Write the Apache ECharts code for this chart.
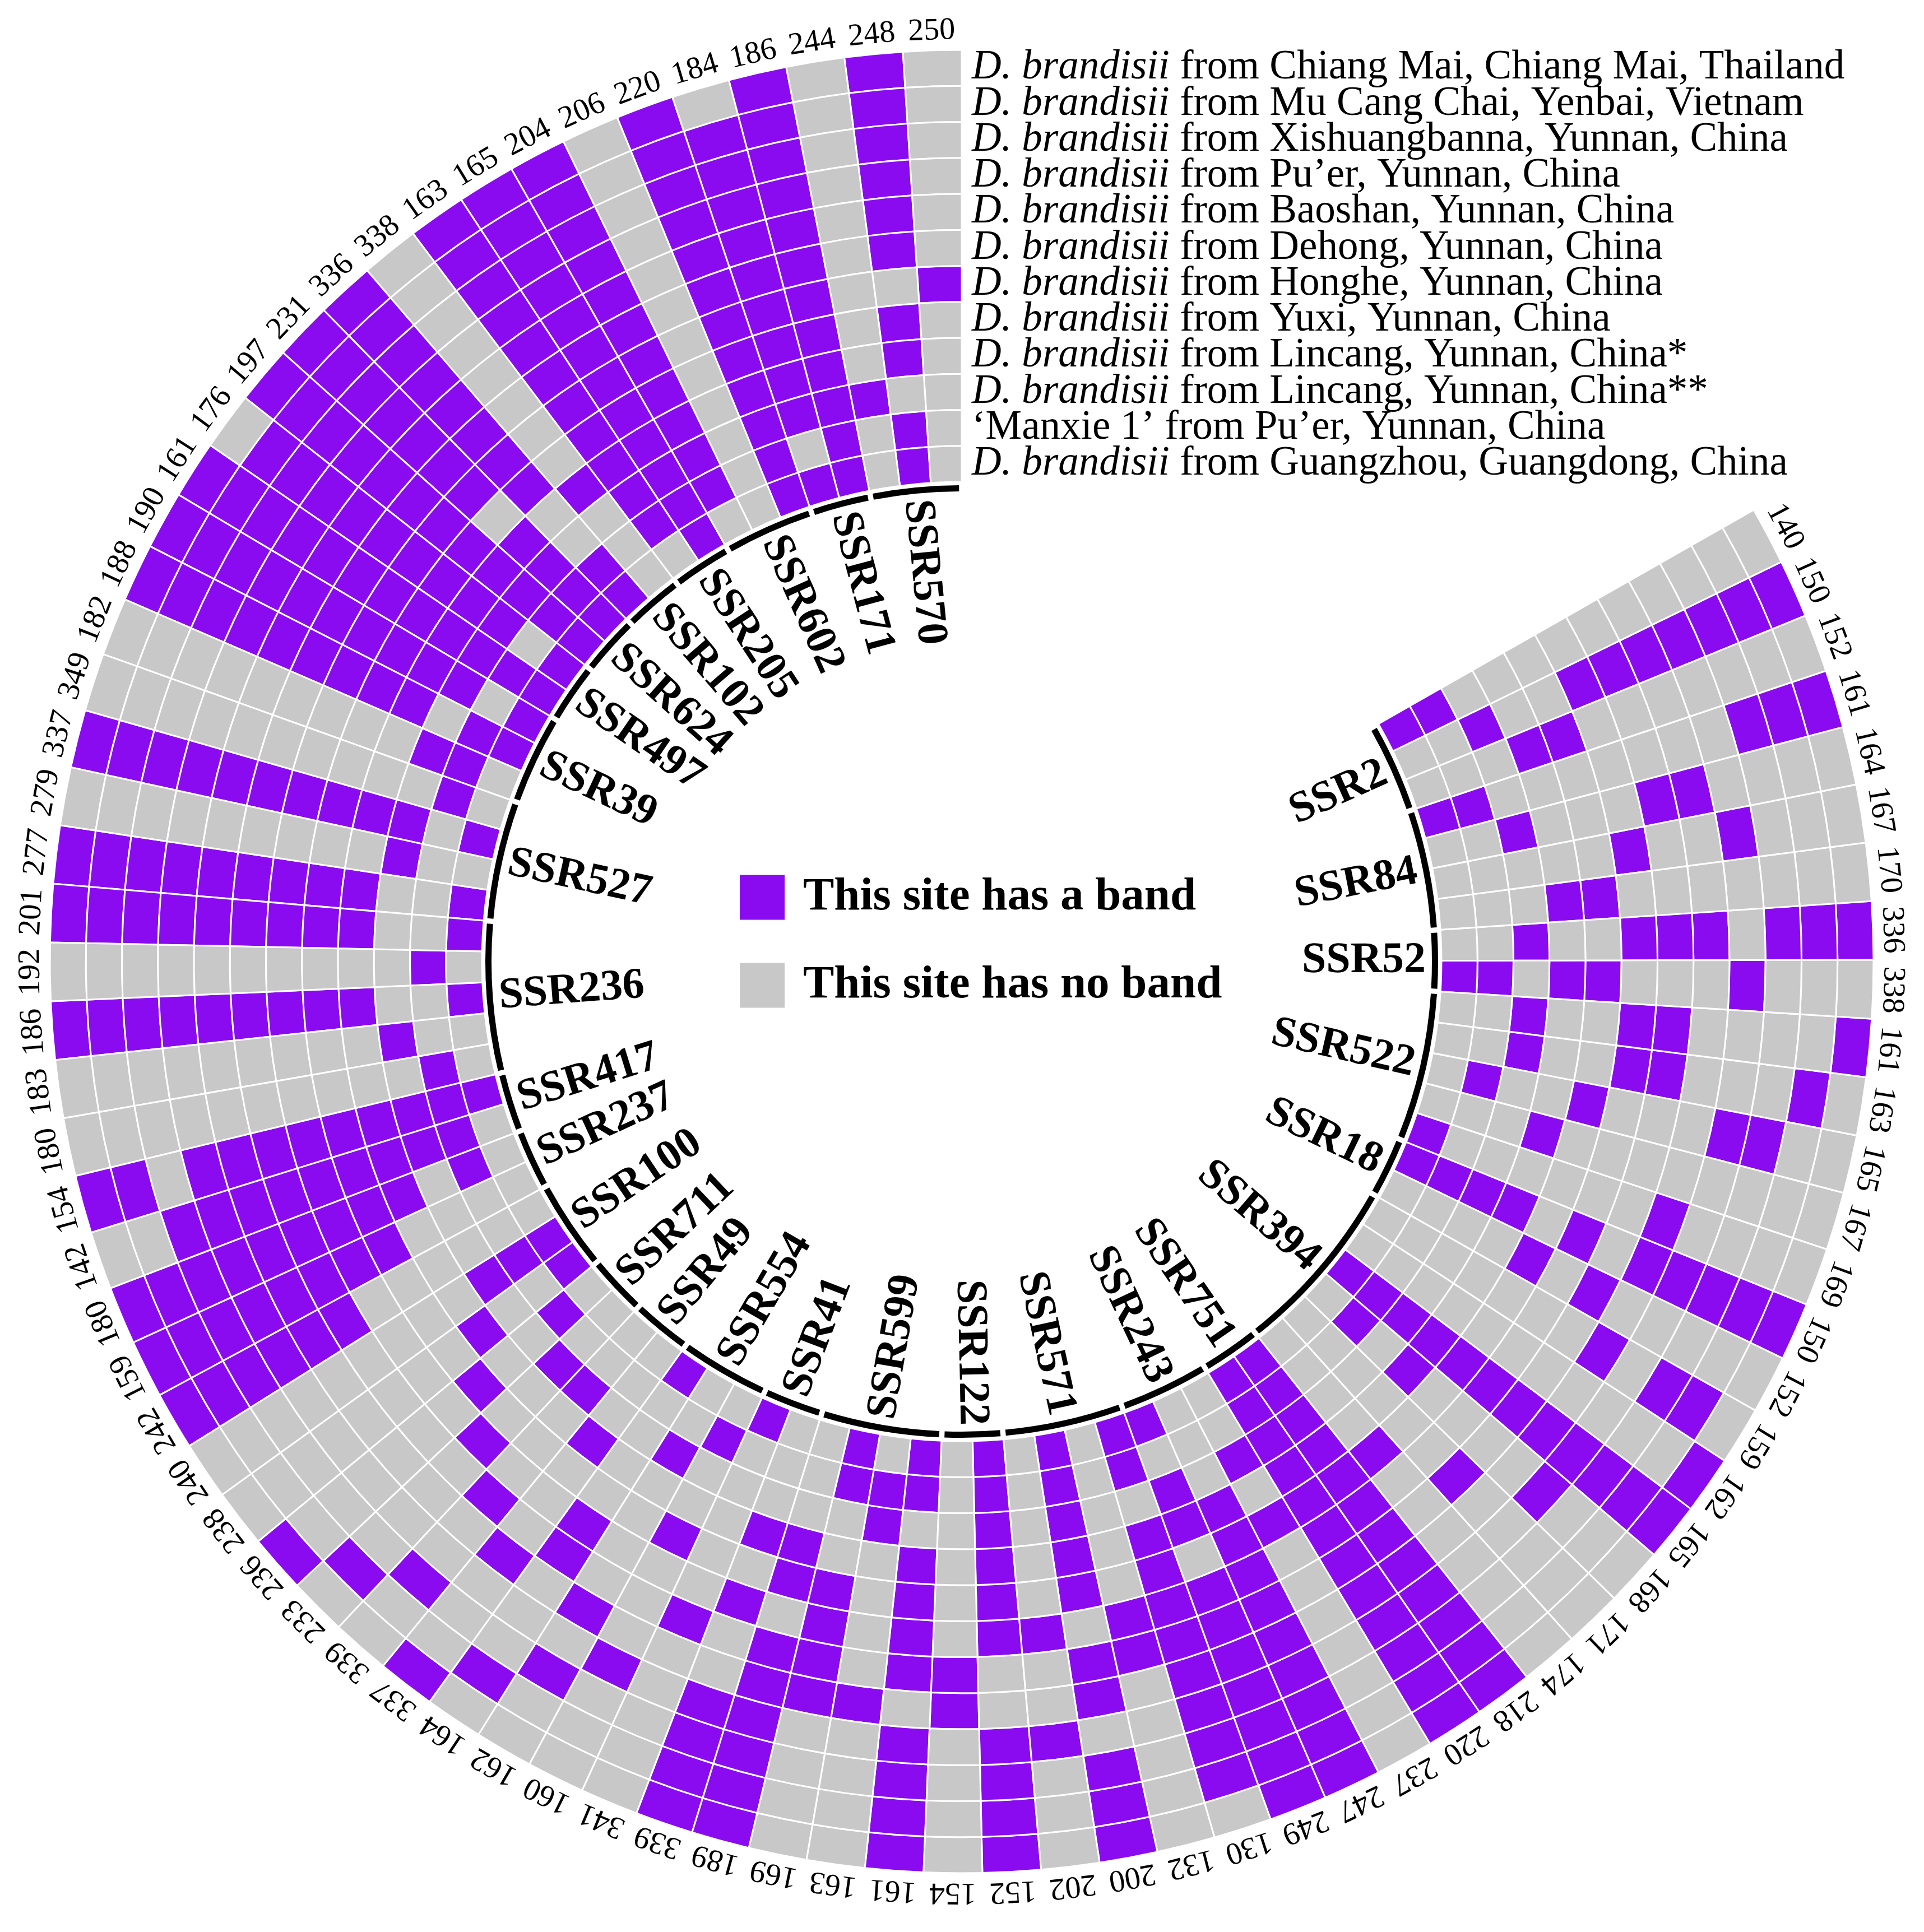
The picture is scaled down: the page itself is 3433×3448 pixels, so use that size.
<!DOCTYPE html>
<html>
<head>
<meta charset="utf-8">
<script src="https://cdn.jsdelivr.net/npm/echarts@6/dist/echarts.min.js"></script>
<style>
html,body{margin:0;padding:0;background:#fff;}
#c{width:3433px;height:3448px;}
</style>
</head>
<body>
<div id="c"></div>
<script>
// ---------- data ----------
const bandSizes = [250,248,244,186,184,220,206,204,165,163,338,336,231,197,176,161,190,188,182,
  349,337,279,277,201,192,186,183,180,154,142,180,159,242,240,238,236,233,339,337,164,162,160,
  341,339,189,169,163,161,154,152,202,200,132,130,249,247,237,220,218,174,171,168,165,162,159,
  152,150,169,167,165,163,161,338,336,170,167,164,161,152,150,140];

const markers = ['SSR570','SSR171','SSR602','SSR205','SSR102','SSR624','SSR497','SSR39','SSR527',
  'SSR236','SSR417','SSR237','SSR100','SSR711','SSR49','SSR554','SSR41','SSR599','SSR122','SSR571',
  'SSR243','SSR751','SSR394','SSR18','SSR522','SSR52','SSR84','SSR2'];
const markerAlleleCounts = [3,2,3,2,2,2,2,3,4,5,2,2,3,2,2,3,2,4,2,4,3,2,6,2,5,2,4,3];

const samplesItalic = ['D. brandisii','D. brandisii','D. brandisii','D. brandisii','D. brandisii',
  'D. brandisii','D. brandisii','D. brandisii','D. brandisii','D. brandisii','','D. brandisii'];
const samplesRest = [' from Chiang Mai, Chiang Mai, Thailand',' from Mu Cang Chai, Yenbai, Vietnam',
  ' from Xishuangbanna, Yunnan, China',' from Pu\u2019er, Yunnan, China',' from Baoshan, Yunnan, China',
  ' from Dehong, Yunnan, China',' from Honghe, Yunnan, China',' from Yuxi, Yunnan, China',
  ' from Lincang, Yunnan, China*',' from Lincang, Yunnan, China**',
  '\u2018Manxie 1\u2019 from Pu\u2019er, Yunnan, China',' from Guangzhou, Guangdong, China'];

// one string per allele column, one character per sample (outer ring first): 1 = band, 0 = no band
const presence = [
  '000000100000','111111011011','000000000100',
  '111111111111','011111111101',
  '111111111111','000000000000','111111111110',
  '111111111111','111111111110',
  '000000001000','111111110011',
  '111111101111','111111111111',
  '011111111101','111111111111',
  '111111111101','111111111011','000000000110',
  '000000000010','111111111101','000000000100','111111111001',
  '111111111001','000000000010','111111111001','000000000100','000000000010',
  '110111111111','001111111110',
  '111111111010','111111110000',
  '111111000000','000000000111','000000001001',
  '100000010010','010000100100',
  '001001000100','100010001000',
  '010001100001','001010000100','000100010010',
  '000001000001','111100101000',
  '111111011000','000011110011','000010000110','111101111011',
  '000011000000','111100111111',
  '000100100000','111011011111','000001100000','011111111011',
  '111111101101','111111111000','000000010100',
  '111111111111','111111111111',
  '000000010000','000001000000','000100001010','111111111111','100000000000','011010000000',
  '000001010000','111110101111',
  '000010000001','000000001000','001100010010','010001100100','100001100100',
  '000100011011','111011100100',
  '000000011000','000100100000','000011000100','111000000011',
  '000000011000','111111100100','000000000011'
];

// ---------- derived ----------
const PURPLE = '#8A0BF0', GRAY = '#C8C8C8';
const NROW = samplesRest.length;
const COL_DEG = 3.7;
const ANGLE_MAX = 360 / COL_DEG;
const FONT = 'Liberation Serif';

const bandData = [], noBandData = [];
presence.forEach(function (col, ci) {
  for (let k = 0; k < NROW; k++) {
    const item = [NROW - k - 0.5, ci + 0.5];
    (col.charAt(k) === '1' ? bandData : noBandData).push(item);
  }
});
const labelData = bandSizes.map(function (b, i) { return [NROW, i + 0.5]; });
const groupData = [];
let start = 0;
markerAlleleCounts.forEach(function (n) {
  groupData.push([0, start + n / 2, n]);
  start += n;
});
const sampleData = samplesRest.map(function (s, k) { return [NROW - k - 0.5, 0]; });

function polarInfo(params, api, r, a) {
  const p = api.coord([r, a]);
  const cx = params.coordSys.cx, cy = params.coordSys.cy;
  return {
    cx: cx, cy: cy,
    ang: Math.atan2(p[1] - cy, p[0] - cx),
    rad: Math.hypot(p[0] - cx, p[1] - cy),
    p: p
  };
}

function renderCell(params, api) {
  const r = api.value(0), a = api.value(1);
  const info = polarInfo(params, api, r, a);
  const s = api.size([1, 1], [r, a]);
  return {
    type: 'sector',
    shape: {
      cx: info.cx, cy: info.cy,
      r0: info.rad - s[0] / 2, r: info.rad + s[0] / 2,
      startAngle: info.ang - s[1] / 2, endAngle: info.ang + s[1] / 2
    },
    style: { fill: api.visual('color'), stroke: '#ffffff', lineWidth: 3 }
  };
}

function renderBandLabel(params, api) {
  const info = polarInfo(params, api, api.value(0), api.value(1));
  const R = info.rad + 6;
  const x = info.cx + R * Math.cos(info.ang), y = info.cy + R * Math.sin(info.ang);
  const alpha = -info.ang;
  return {
    type: 'text', x: x, y: y, rotation: alpha - Math.PI / 2,
    style: {
      text: String(bandSizes[params.dataIndex]), fill: '#000',
      fontSize: 56, fontFamily: FONT, align: 'center', verticalAlign: 'bottom'
    }
  };
}

function renderGroupArc(params, api) {
  const a = api.value(1), n = api.value(2);
  const info = polarInfo(params, api, 0, a);
  const s = api.size([0, n], [0, a]);
  const gap = 0.32 * Math.PI / 180;
  const r0 = params.coordSys.r0;
  return {
    type: 'sector',
    shape: {
      cx: info.cx, cy: info.cy, r0: r0 - 17, r: r0 - 6,
      startAngle: info.ang - s[1] / 2 + gap, endAngle: info.ang + s[1] / 2 - gap
    },
    style: { fill: '#000' }
  };
}

function renderMarker(params, api) {
  const a = api.value(1);
  const info = polarInfo(params, api, 0, a);
  const R = params.coordSys.r0 - 28;
  const x = info.cx + R * Math.cos(info.ang), y = info.cy + R * Math.sin(info.ang);
  let alpha = -info.ang;
  const left = Math.cos(alpha) < 0;
  return {
    type: 'text', x: x, y: y, rotation: left ? alpha - Math.PI : alpha,
    style: {
      text: markers[params.dataIndex], fill: '#000', fontSize: 78, fontWeight: 'bold',
      fontFamily: FONT, align: left ? 'left' : 'right', verticalAlign: 'middle'
    }
  };
}

function renderSample(params, api) {
  const info = polarInfo(params, api, api.value(0), 0);
  const k = params.dataIndex;
  const it = samplesItalic[k];
  const txt = (it ? '{i|' + it + '}' : '') + '{n|' + samplesRest[k] + '}';
  return {
    type: 'text', x: info.p[0] + 18, y: info.p[1],
    style: {
      text: txt, fill: '#000', fontSize: 73, fontFamily: FONT,
      align: 'left', verticalAlign: 'middle',
      rich: {
        i: { fontStyle: 'italic', fontSize: 73, fontFamily: FONT, fill: '#000' },
        n: { fontSize: 73, fontFamily: FONT, fill: '#000' }
      }
    }
  };
}

const chart = echarts.init(document.getElementById('c'), null, { renderer: 'canvas', width: 3433, height: 3448 });
chart.setOption({
  animation: false,
  backgroundColor: '#ffffff',
  textStyle: { fontFamily: FONT },
  polar: { center: [1716, 1716], radius: [856, 1627] },
  angleAxis: {
    type: 'value', min: 0, max: ANGLE_MAX, startAngle: 90, clockwise: false,
    axisLine: { show: false }, axisTick: { show: false }, axisLabel: { show: false }, splitLine: { show: false }
  },
  radiusAxis: {
    type: 'value', min: 0, max: NROW,
    axisLine: { show: false }, axisTick: { show: false }, axisLabel: { show: false }, splitLine: { show: false }
  },
  legend: {
    data: ['This site has a band', 'This site has no band'],
    orient: 'vertical', left: 1320, top: 1560, padding: 0,
    itemWidth: 80, itemHeight: 80, itemGap: 74, icon: 'rect', selectedMode: false,
    textStyle: { fontSize: 83, fontWeight: 'bold', fontFamily: FONT, color: '#000', padding: [0, 0, 0, 28] }
  },
  series: [
    { name: 'This site has a band', type: 'custom', coordinateSystem: 'polar',
      itemStyle: { color: PURPLE }, renderItem: renderCell, data: bandData, silent: true },
    { name: 'This site has no band', type: 'custom', coordinateSystem: 'polar',
      itemStyle: { color: GRAY }, renderItem: renderCell, data: noBandData, silent: true },
    { name: 'bands', type: 'custom', coordinateSystem: 'polar', renderItem: renderBandLabel, data: labelData, silent: true },
    { name: 'arcs', type: 'custom', coordinateSystem: 'polar', renderItem: renderGroupArc, data: groupData, silent: true },
    { name: 'markers', type: 'custom', coordinateSystem: 'polar', renderItem: renderMarker, data: groupData, silent: true },
    { name: 'samples', type: 'custom', coordinateSystem: 'polar', renderItem: renderSample, data: sampleData, silent: true }
  ]
});
</script>
</body>
</html>
